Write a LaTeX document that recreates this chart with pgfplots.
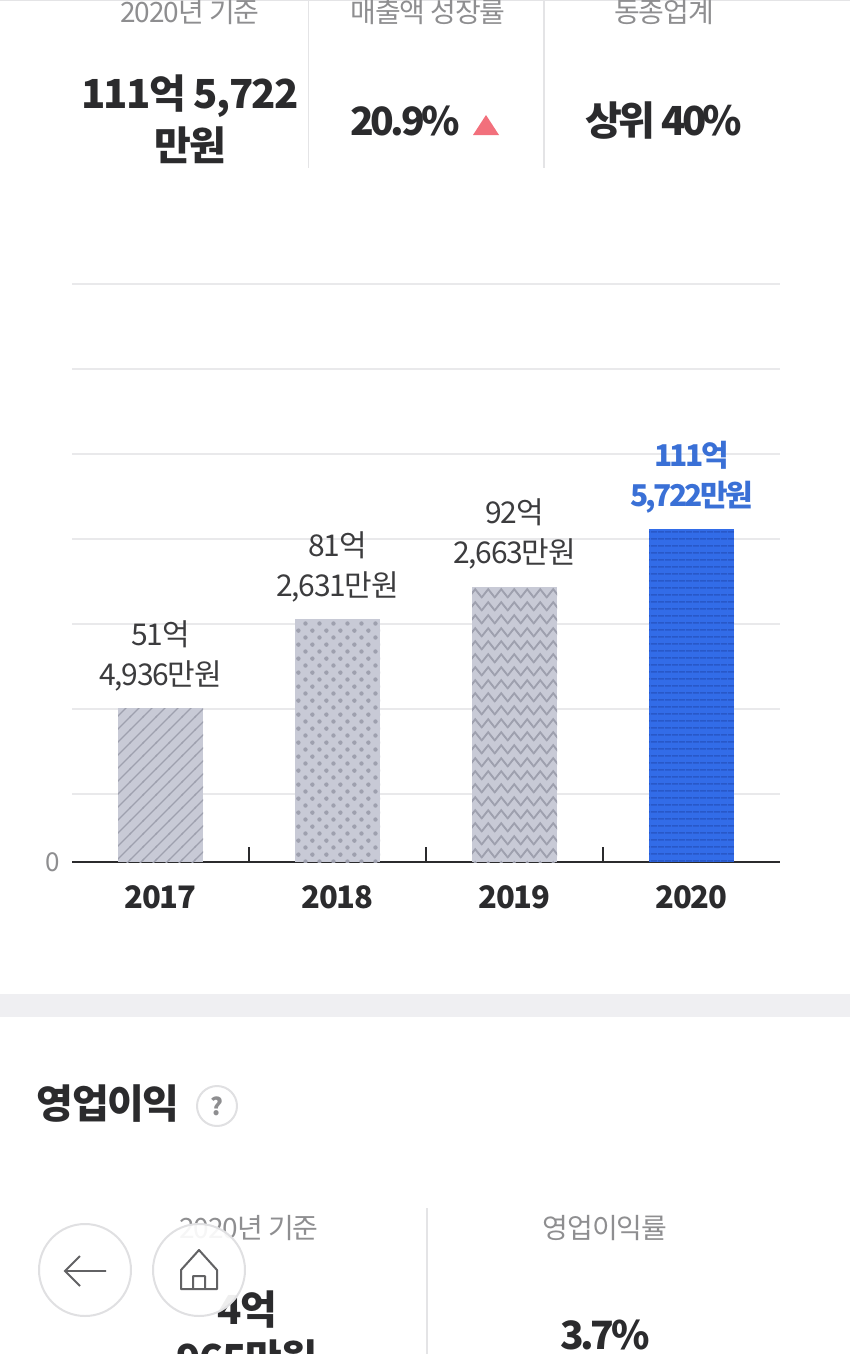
\documentclass[border=0pt]{standalone}
\usepackage{fontspec}
\setmainfont{Noto Sans CJK KR}[LetterSpace=-4]
\newfontfamily\tightf{Noto Sans CJK KR}[LetterSpace=-9]
\usepackage{pgfplots}
\pgfplotsset{compat=1.18}
\usetikzlibrary{patterns}

\definecolor{txt}{HTML}{2B2B2D}
\definecolor{lab}{HTML}{8E8E90}
\definecolor{sub}{HTML}{3C3C3E}
\definecolor{gridc}{HTML}{E9E9EB}
\definecolor{rulec}{HTML}{E4E4E6}
\definecolor{bargrey}{HTML}{C8CAD6}
\definecolor{patgrey}{HTML}{9EA0AE}
\definecolor{barblue}{HTML}{326CE8}
\definecolor{patblue}{HTML}{2858C8}
\definecolor{lblblue}{HTML}{3A70D6}
\definecolor{tri}{HTML}{F2707C}
\definecolor{band}{HTML}{EFEFF2}
\definecolor{ring}{HTML}{E0E0E2}
\definecolor{icon}{HTML}{626264}

% hatching for the bars
\pgfdeclarepatternformonly{barlines}{\pgfqpoint{-1pt}{-1pt}}{\pgfqpoint{14pt}{14pt}}{\pgfqpoint{13pt}{13pt}}{
  \pgfsetlinewidth{1.4pt}
  \pgfpathmoveto{\pgfqpoint{-1pt}{-1pt}}
  \pgfpathlineto{\pgfqpoint{14pt}{14pt}}
  \pgfusepath{stroke}}
\pgfdeclarepatternformonly{bardots}{\pgfqpoint{0pt}{0pt}}{\pgfqpoint{14.4pt}{14.4pt}}{\pgfqpoint{14.4pt}{14.4pt}}{
  \pgfpathcircle{\pgfqpoint{3.6pt}{3.6pt}}{2.3pt}
  \pgfpathcircle{\pgfqpoint{10.8pt}{10.8pt}}{2.3pt}
  \pgfusepath{fill}}
\pgfdeclarepatternformonly{barzig}{\pgfqpoint{0pt}{0pt}}{\pgfqpoint{12.7pt}{12.7pt}}{\pgfqpoint{12.7pt}{12.7pt}}{
  \pgfsetlinewidth{1.9pt}
  \pgfpathmoveto{\pgfqpoint{-1.2pt}{1pt}}
  \pgfpathlineto{\pgfqpoint{0pt}{2pt}}
  \pgfpathlineto{\pgfqpoint{6.35pt}{10pt}}
  \pgfpathlineto{\pgfqpoint{12.7pt}{2pt}}
  \pgfpathlineto{\pgfqpoint{13.9pt}{1pt}}
  \pgfusepath{stroke}}
\pgfdeclarepatternformonly{barhl}{\pgfqpoint{0pt}{0pt}}{\pgfqpoint{7pt}{7pt}}{\pgfqpoint{7pt}{7pt}}{
  \pgfsetlinewidth{1.6pt}
  \pgfpathmoveto{\pgfqpoint{0pt}{3.5pt}}
  \pgfpathlineto{\pgfqpoint{7pt}{3.5pt}}
  \pgfusepath{stroke}}

\newcommand{\fs}[1]{\fontsize{#1}{#1}\selectfont}

\begin{document}
\begin{tikzpicture}
\path[use as bounding box] (0pt,0pt) rectangle (850pt,-1354pt);

\begin{axis}[
    at={(72pt,-862pt)},
    anchor=south west,
    scale only axis,
    width=708pt,
    height=578pt,
    ymin=0,
    ymax=193.63,
    xmin=-0.5,
    xmax=3.5,
    ybar,
    bar shift=0pt,
    bar width=85pt,
    axis x line*=bottom,
    axis y line*=left,
    y axis line style={draw=none},
    x axis line style={draw=txt,line width=1.6pt,-},
    xtick={0,1,2,3},
    xticklabels={2017,2018,2019,2020},
    minor xtick={0.5,1.5,2.5},
    tick align=inside,
    major tick length=0pt,
    minor tick length=15pt,
    minor tick style={draw=txt,line width=1.4pt},
    x tick label style={font=\fs{31}\bfseries,text=txt,yshift=-20pt},
    ytick={0},
    y tick label style={font=\fs{26},text=lab,xshift=-9pt},
    /pgf/number format/assume math mode=true,
    extra y ticks={22.78,51.26,79.73,108.2,136.68,165.15,193.63},
    extra y tick labels={},
    extra y tick style={grid=major,major grid style={draw=gridc,line width=1.8pt},tick style={draw=none}},
    point meta=explicit symbolic,
    nodes near coords,
    nodes near coords align={above},
    every node near coord/.style={font=\fontsize{30}{40}\selectfont,text=sub,align=center,yshift=17pt,inner sep=0pt},
]
\addplot[draw=none,fill=bargrey,postaction={pattern=barlines,pattern color=patgrey}]
    coordinates {(0,51.49) [51억\\4,936만원]};
\addplot[draw=none,fill=bargrey,postaction={pattern=bardots,pattern color=patgrey}]
    coordinates {(1,81.26) [81억\\2,631만원]};
\addplot[draw=none,fill=bargrey,postaction={pattern=barzig,pattern color=patgrey}]
    coordinates {(2,92.27) [92억\\2,663만원]};
\addplot[draw=none,fill=barblue,postaction={pattern=barhl,pattern color=patblue},
    every node near coord/.append style={text=lblblue,yshift=-2pt,font=\tightf\fontsize{30}{40}\selectfont\bfseries}]
    coordinates {(3,111.57) [111억\\5,722만원]};
\end{axis}

% page furniture around the chart
\begin{scope}[x=1pt,y=-1pt]
\draw[rulec,line width=1pt] (0,0.5) -- (850,0.5);
\draw[rulec,line width=1.4pt] (308.5,0) -- (308.5,168);
\draw[rulec,line width=1.4pt] (544,0) -- (544,168);
\node[text=lab,font=\fs{28}] at (190,12) {2020년 기준};
\node[text=lab,font=\fs{28}] at (428,12) {매출액 성장률};
\node[text=lab,font=\fs{28}] at (664,12) {동종업계};
\node[text=txt,font=\fs{40}\bfseries] at (190,96) {111억 5,722};
\node[text=txt,font=\fs{40}\bfseries] at (190,145) {만원};
\node[text=txt,font=\tightf\fs{39}\bfseries] at (405,121) {20.9\%};
\fill[tri] (473,135) -- (486,115) -- (499,135) -- cycle;
\node[text=txt,font=\tightf\fs{40}\bfseries] at (664,121) {상위 40\%};

\fill[band] (0,994) rectangle (850,1017);

\node[text=txt,font=\fs{40}\bfseries] at (108,1104) {영업이익};
\draw[ring,line width=2pt,fill=white] (217,1106) circle (20);
\node[text=lab,font=\fs{24}\bfseries] at (217,1106) {?};

\draw[rulec,line width=1.4pt] (427,1208) -- (427,1354);
\node[text=lab,font=\fs{28}] at (249,1228) {2020년 기준};
\node[text=lab,font=\fs{28}] at (605,1228) {영업이익률};
\node[text=txt,font=\fs{40}\bfseries] at (247,1310) {4억};
\node[text=txt,font=\fs{40}\bfseries] at (247,1358) {965만원};
\node[text=txt,font=\tightf\fs{39}\bfseries] at (605,1335) {3.7\%};

\draw[ring,line width=2pt,fill=white,fill opacity=0.92] (85,1270) circle (46);
\draw[ring,line width=2pt,fill=white,fill opacity=0.92] (199,1270) circle (46);
\draw[icon,line width=1.8pt] (65,1271) -- (106,1271) (80,1256) -- (65,1271) -- (80,1286);
\draw[icon,line width=2pt,line join=round] (181,1270) -- (181,1289) -- (217,1289) -- (217,1270)
   -- (199,1250) -- cycle (193,1289) -- (193,1276) -- (205,1276) -- (205,1289);
\end{scope}
\end{tikzpicture}
\end{document}
